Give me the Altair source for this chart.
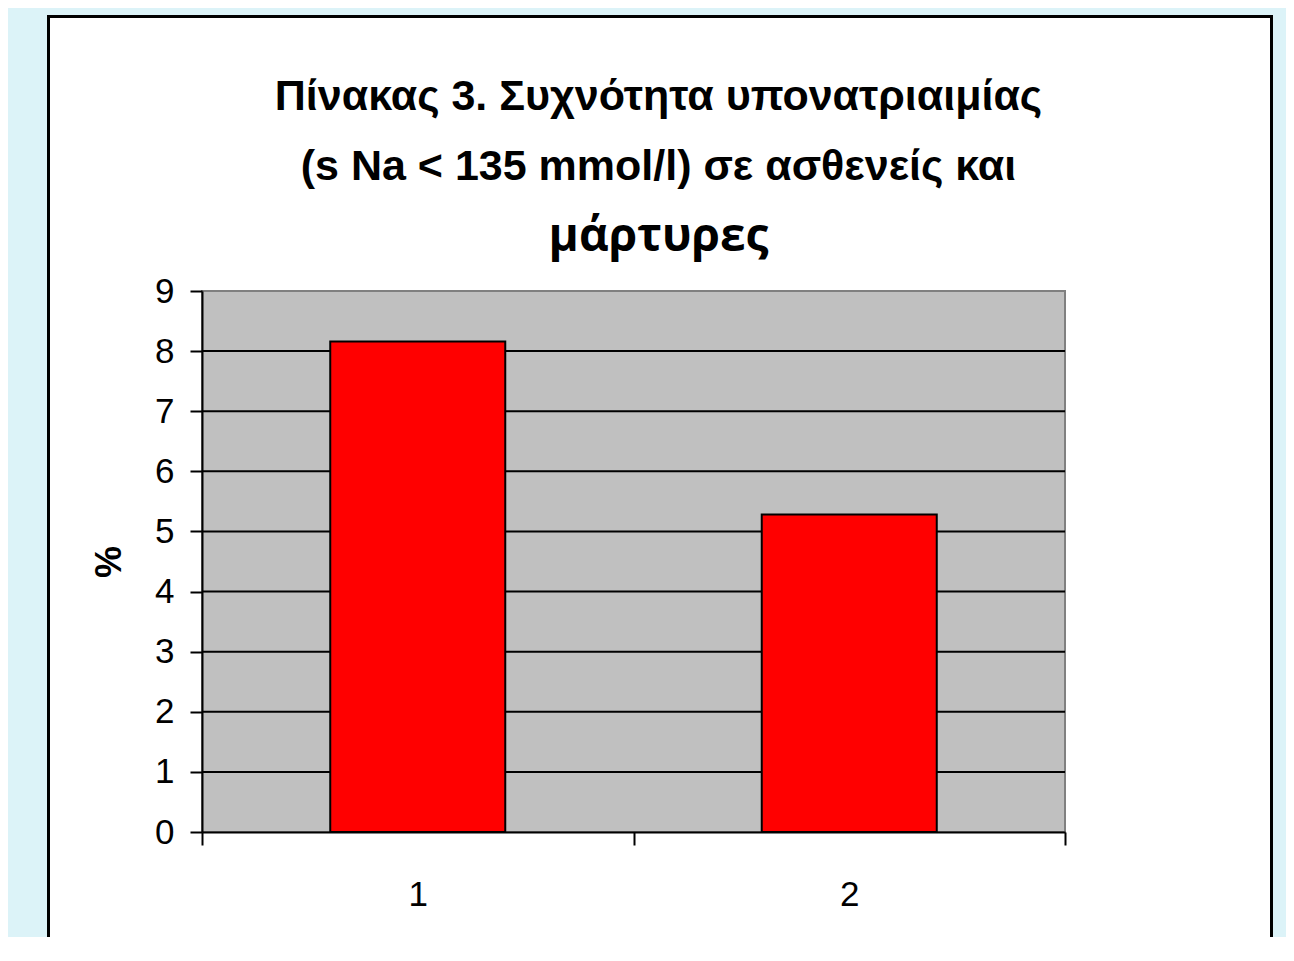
import altair as alt
import pandas as pd

# ---- data ----
categories = [1, 2]
values = [8.16, 5.28]
y_ticks = [0, 1, 2, 3, 4, 5, 6, 7, 8, 9]
x_tick_values = [0.5, 1, 1.5, 2, 2.5]
title_lines = ["Πίνακας 3. Συχνότητα υπονατριαιμίας", "(s Na < 135 mmol/l) σε ασθενείς και"]
subtitle_text = "μάρτυρες"
y_title = "%"

W, H = 863, 541
BAR_HALF = 0.2028

bars_df = pd.DataFrame({"cat": categories, "value": values})
grid_df = pd.DataFrame({"tick": y_ticks[1:-1]})
one = pd.DataFrame({"k": [0]})

xscale = alt.Scale(domain=[0.5, 2.5], nice=False, zero=False)
yscale = alt.Scale(domain=[0, 9], nice=False)

xaxis = alt.Axis(
    values=x_tick_values, title=None, grid=False,
    domainColor="black", domainWidth=2,
    tickColor="black", tickWidth=2, tickSize=13,
    tickOpacity={"condition": {"test": "datum.value % 1 === 0", "value": 0}, "value": 1},
    labelExpr="datum.value % 1 === 0 ? format(datum.value, 'd') : ''",
    labelFont="Liberation Sans", labelFontSize=35, labelColor="black",
    labelPadding=32, labelOverlap=False, labelFlush=False, zindex=1,
)
yaxis = alt.Axis(
    values=y_ticks, title=y_title, grid=False, format="d",
    domainColor="black", domainWidth=2,
    tickColor="black", tickWidth=2, tickSize=12,
    labelFont="Liberation Sans", labelFontSize=35, labelColor="black", labelPadding=16,
    titleFont="Liberation Sans", titleFontSize=36, titleFontWeight="bold",
    titleColor="black", titlePadding=26, zindex=1,
)

frame = alt.Chart(one).mark_rect(fill="white", stroke="black", strokeWidth=3).encode(
    x=alt.value(-153.5), x2=alt.value(1069.5), y=alt.value(-274.5), y2=alt.value(H + 300)
)
plotbg = alt.Chart(one).mark_rect(fill="#C0C0C0", stroke="#808080", strokeWidth=2).encode(
    x=alt.value(0), x2=alt.value(W), y=alt.value(0), y2=alt.value(H)
)
grid = alt.Chart(grid_df).mark_rule(color="black", strokeWidth=2).encode(
    y=alt.Y("tick:Q", scale=yscale, axis=yaxis)
)
bars = alt.Chart(bars_df).transform_calculate(
    x0=f"datum.cat - {BAR_HALF}", x1=f"datum.cat + {BAR_HALF}", zero="0"
).mark_rect(fill="#FF0000", stroke="black", strokeWidth=2).encode(
    x=alt.X("x0:Q", scale=xscale, axis=xaxis),
    x2="x1:Q",
    y=alt.Y("value:Q", scale=yscale, axis=yaxis),
    y2="zero:Q",
)

chart = alt.layer(frame, plotbg, grid, bars).properties(
    width=W, height=H,
    title=alt.TitleParams(
        text=title_lines, subtitle=subtitle_text,
        font="Liberation Sans", fontSize=43, fontWeight="bold", color="black",
        lineHeight=70, anchor="middle", dx=25, offset=-245,
        subtitleFont="Open Sans", subtitleFontSize=46, subtitleFontWeight="bold",
        subtitleColor="black", subtitlePadding=26,
    ),
    padding={"left": 194, "top": 283, "right": 221, "bottom": 105},
    autosize=alt.AutoSizeParams(type="none"),
    background="#DCF3F8",
).configure_view(stroke="transparent")

chart.save("out.html", embed_options={"renderer": "svg", "actions": False})
